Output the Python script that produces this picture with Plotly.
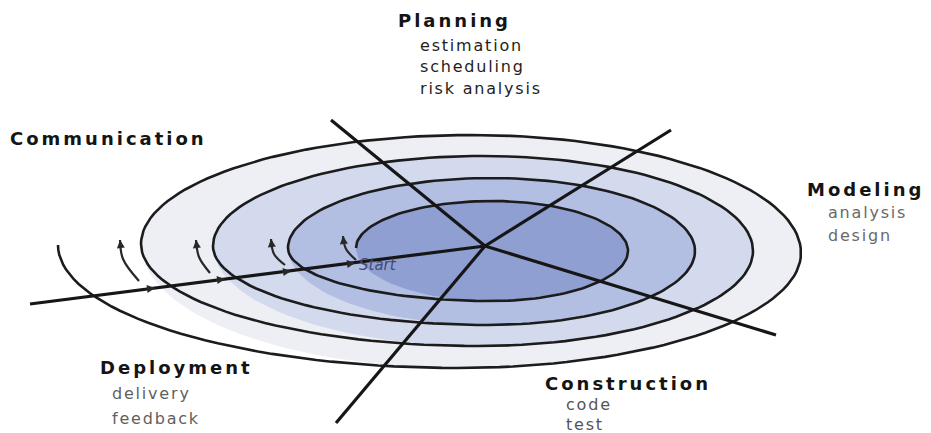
import numpy as np
import plotly.graph_objects as go

W, H = 931, 433

# Spiral extreme points (pixel coords), in drawing order: left, top, right, bottom, left, ...
spiral_x = [348, 484, 620, 484, 280, 483, 687, 480, 205, 475, 745, 470, 133, 463, 793, 450, 50]
spiral_y = [240, 193, 243, 293, 240, 170, 243, 317, 238, 148, 243, 338, 236, 127, 245, 360, 237]
# fill of each loop (inner -> outer)
loop_colors = ["rgb(144,159,209)", "rgb(178,190,226)", "rgb(212,218,237)", "rgb(238,239,244)"]

# radial phase-boundary lines: centre -> end
center = (477, 238)
ray_end_x = [323, 663, 768, 328, 22]
ray_end_y = [112, 122, 327, 415, 296]

# small direction arcs on the left (top, middle, end)
arc_x = [[335, 338, 348], [263, 266, 277], [188, 191, 202], [112, 115, 131]]
arc_y = [[228, 241, 252], [231, 246, 257], [232, 249, 265], [232, 251, 273]]

# arrowheads on the left ray
ray_arrow_x = [147, 217, 283, 347]
ray_arrow_y = [280, 271, 263, 255]

# labels
headers = ["Planning", "Communication", "Modeling", "Deployment", "Construction"]
header_x = [388, 0, 797, 90, 535]
header_y = [12, 130, 181, 359, 375]
subitems = [["estimation", "scheduling", "risk analysis"], ["analysis", "design"],
            ["delivery", "feedback"], ["code", "test"]]
sub_x = [410, 818, 102, 556]
sub_y = [[37, 58, 80], [204, 227], [385, 410], [396, 416]]
sub_colors = ["rgb(30,30,30)", "rgb(105,105,105)", "rgb(95,95,95)", "rgb(85,85,85)"]


def quarter(p, q, p_is_x_extreme, n=40):
    t = np.linspace(0, np.pi / 2, n)
    if p_is_x_extreme:
        cx, cy = q[0], p[1]
        ax, by = p[0] - cx, q[1] - cy
        return cx + ax * np.cos(t), cy + by * np.sin(t)
    cx, cy = p[0], q[1]
    ax, by = q[0] - cx, p[1] - cy
    return cx + ax * np.sin(t), cy + by * np.cos(t)


def spiral_path(i0, i1):
    xs, ys = [], []
    for i in range(i0, i1):
        x, y = quarter((spiral_x[i], spiral_y[i]), (spiral_x[i + 1], spiral_y[i + 1]), i % 2 == 0)
        xs.extend(x.tolist())
        ys.extend(y.tolist())
    return xs, ys


def loop_outline(k):
    xs, ys = spiral_path(4 * k, 4 * k + 3)
    i_b, i_l = 4 * k + 3, 4 * k
    x, y = quarter((spiral_x[i_b], spiral_y[i_b]), (spiral_x[i_l], spiral_y[i_l]), False)
    return xs + x.tolist(), ys + y.tolist()


fig = go.Figure()

# loop fills, outer first
for k in reversed(range(4)):
    xs, ys = loop_outline(k)
    fig.add_trace(go.Scatter(x=xs, y=ys, mode="lines", fill="toself",
                             fillcolor=loop_colors[k], line=dict(width=0),
                             hoverinfo="skip", showlegend=False))

# spiral line
sx, sy = spiral_path(0, len(spiral_x) - 1)
fig.add_trace(go.Scatter(x=sx, y=sy, mode="lines", line=dict(color="rgb(28,28,28)", width=2.6),
                         hoverinfo="skip", showlegend=False))

# rays
for ex, ey in zip(ray_end_x, ray_end_y):
    fig.add_trace(go.Scatter(x=[center[0], ex], y=[center[1], ey], mode="lines",
                             line=dict(color="rgb(22,22,22)", width=3.2),
                             hoverinfo="skip", showlegend=False))

# small arcs
for ax_, ay_ in zip(arc_x, arc_y):
    fig.add_trace(go.Scatter(x=ax_, y=ay_, mode="lines",
                             line=dict(color="rgb(40,40,40)", width=2.2, shape="spline"),
                             hoverinfo="skip", showlegend=False))

annotations = []
for ax_, ay_ in zip(arc_x, arc_y):
    annotations.append(dict(x=ax_[0], y=ay_[0], ax=ax_[0] + 1, ay=ay_[0] + 9,
                            xref="x", yref="y", axref="x", ayref="y", text="",
                            showarrow=True, arrowhead=2, arrowsize=0.8, arrowwidth=2,
                            arrowcolor="rgb(40,40,40)"))
for x_, y_ in zip(ray_arrow_x, ray_arrow_y):
    annotations.append(dict(x=x_, y=y_, ax=x_ - 10, ay=y_ + 1.3,
                            xref="x", yref="y", axref="x", ayref="y", text="",
                            showarrow=True, arrowhead=2, arrowsize=0.8, arrowwidth=2,
                            arrowcolor="rgb(40,40,40)"))

for t, x_, y_ in zip(headers, header_x, header_y):
    annotations.append(dict(x=x_, y=y_, xref="x", yref="y", xanchor="left", yanchor="middle",
                            showarrow=False,
                            text='<span style="letter-spacing:3px"><b>%s</b></span>' % t,
                            font=dict(family="DejaVu Sans", size=18, color="rgb(20,20,20)")))
for items, x_, ys_, c in zip(subitems, sub_x, sub_y, sub_colors):
    for t, y_ in zip(items, ys_):
        annotations.append(dict(x=x_, y=y_, xref="x", yref="y", xanchor="left", yanchor="middle",
                                showarrow=False,
                                text='<span style="letter-spacing:1.8px">%s</span>' % t,
                                font=dict(family="DejaVu Sans", size=16, color=c)))

annotations.append(dict(x=349, y=257, xref="x", yref="y", xanchor="left", yanchor="middle",
                        showarrow=False, text="<i>Start</i>",
                        font=dict(family="DejaVu Sans", size=15, color="rgb(68,76,112)")))

fig.update_layout(
    width=W, height=H, margin=dict(l=0, r=0, t=0, b=0),
    paper_bgcolor="white", plot_bgcolor="white",
    xaxis=dict(range=[0, W], visible=False, fixedrange=True),
    yaxis=dict(range=[H, 0], visible=False, fixedrange=True),
    annotations=annotations, showlegend=False,
)

fig.write_html("out.html")
